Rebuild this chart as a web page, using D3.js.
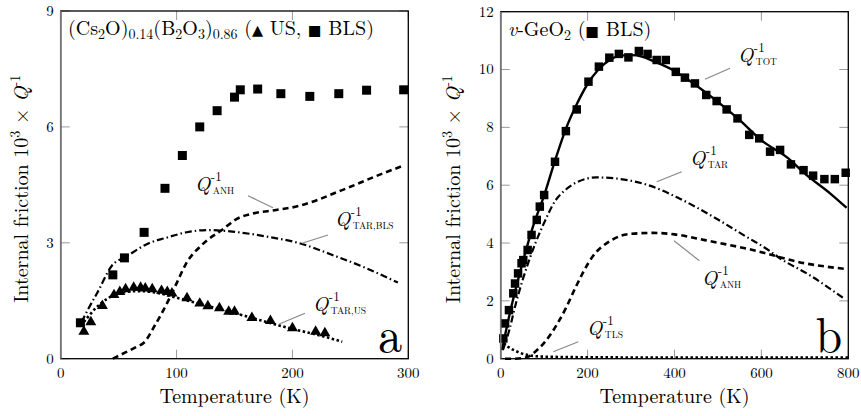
<!DOCTYPE html>
<html>
<head>
<meta charset="utf-8">
<script src="https://cdn.jsdelivr.net/npm/d3@7"></script>
<style>
  body { margin: 0; background: #fff; }
</style>
</head>
<body>
<svg id="chart" width="861" height="416"></svg>
<script>
// ---- panel a : (Cs2O)0.14(B2O3)0.86 ----
const blsTempA = [17, 45, 55, 72, 90, 105, 120, 135, 150, 155, 170, 190, 215, 240, 264, 296];
const blsQA = [0.93, 2.17, 2.61, 3.27, 4.41, 5.26, 6.0, 6.42, 6.77, 6.96, 6.98, 6.86, 6.79, 6.86, 6.95, 6.96];

const usTempA = [20, 26, 36, 46, 51, 56, 63, 69, 73, 79, 87, 92, 96, 109, 120, 127, 137, 145, 150, 165, 181, 200, 220, 228];
const usQA = [0.7, 0.95, 1.37, 1.65, 1.73, 1.8, 1.84, 1.84, 1.82, 1.8, 1.76, 1.73, 1.69, 1.57, 1.43, 1.36, 1.31, 1.22, 1.22, 1.06, 0.98, 0.79, 0.7, 0.66];

const anhTempA = [45, 55, 65, 72, 82, 92, 100, 108, 122, 140, 152, 165, 186, 205, 221, 235, 250, 270, 296];
const anhQA = [0, 0.15, 0.3, 0.42, 0.9, 1.45, 1.95, 2.45, 2.95, 3.35, 3.62, 3.75, 3.85, 3.95, 4.1, 4.27, 4.45, 4.7, 5.0];

const tarBlsTempA = [18, 24, 32, 44, 57, 76, 90, 110, 127, 148, 178, 206, 235, 264, 291];
const tarBlsQA = [0.95, 1.3, 1.73, 2.4, 2.65, 2.99, 3.12, 3.28, 3.33, 3.29, 3.16, 2.99, 2.68, 2.34, 1.97];

const tarUsTempA = [20, 30, 40, 50, 60, 70, 80, 90, 100, 120, 140, 160, 180, 200, 220, 243];
const tarUsQA = [0.95, 1.3, 1.55, 1.68, 1.74, 1.75, 1.72, 1.66, 1.58, 1.42, 1.26, 1.1, 0.93, 0.77, 0.63, 0.44];

const xTicksA = [0, 100, 200, 300];
const yTicksA = [0, 3, 6, 9];

// ---- panel b : v-GeO2 ----
const blsTempB = [6, 10, 19, 29, 33, 40, 48, 52, 62, 71, 83, 90, 100, 125, 150, 175, 202, 226, 250, 272, 294, 318, 338, 359, 380, 403, 424, 447, 473, 497, 520, 545, 572, 595, 620, 643, 668, 697, 719, 745, 769, 794];
const blsQB = [0.7, 1.22, 1.68, 2.26, 2.6, 2.95, 3.3, 3.41, 3.76, 4.28, 4.8, 5.26, 5.66, 6.81, 7.87, 8.62, 9.58, 10.1, 10.41, 10.54, 10.42, 10.64, 10.54, 10.33, 10.33, 9.92, 9.72, 9.52, 9.12, 8.91, 8.62, 8.31, 7.74, 7.62, 7.16, 7.22, 6.72, 6.52, 6.33, 6.21, 6.21, 6.43];

const totTempB = [3, 20, 50, 75, 100, 125, 150, 175, 200, 225, 250, 275, 300, 325, 350, 400, 450, 500, 550, 600, 662, 700, 758, 796];
const totQB = [0.3, 1.5, 3.3, 4.6, 5.65, 6.85, 7.95, 8.8, 9.5, 10.0, 10.32, 10.48, 10.5, 10.45, 10.3, 9.95, 9.45, 8.88, 8.25, 7.55, 6.93, 6.4, 5.72, 5.22];

const tarTempB = [5, 20, 33, 50, 63, 80, 100, 125, 150, 175, 220, 260, 340, 410, 490, 565, 620, 640, 710, 790];
const tarQB = [0.3, 1.0, 1.8, 2.7, 3.3, 4.0, 4.7, 5.45, 5.85, 6.1, 6.27, 6.24, 6.0, 5.55, 4.9, 4.22, 3.72, 3.5, 2.9, 2.08];

const anhTempB = [10, 30, 60, 80, 100, 130, 150, 175, 210, 255, 300, 350, 400, 470, 580, 700, 796];
const anhQB = [0, 0, 0.05, 0.25, 0.55, 1.2, 1.75, 2.55, 3.5, 4.1, 4.32, 4.35, 4.3, 4.1, 3.76, 3.3, 3.1];

const tlsTempB = [2, 10, 20, 30, 45, 65, 100, 200, 400, 800];
const tlsQB = [0.7, 0.5, 0.38, 0.3, 0.2, 0.12, 0.07, 0.05, 0.04, 0.04];

const xTicksB = [0, 200, 400, 600, 800];
const yTicksB = [0, 2, 4, 6, 8, 10, 12];

const svg = d3.select('#chart').style('font-family', '"Latin Modern Roman"');

const zip = (xs, ys) => xs.map((x, i) => [x, ys[i]]);

// line styles used in both panels
const styles = {
  solid: { width: 2.4, dash: null },
  dashed: { width: 2.6, dash: '6,4' },
  dashdot: { width: 2.2, dash: '7,3,1.5,3' },
  dotted: { width: 2.6, dash: '2.5,2.5' },
};

/**
 * writes a text made of parts: n = normal, s = subscript, i = italic, g = glyph
 */
function richText(g, x, y, size, parts) {
  const t = g.append('text').attr('x', x).attr('y', y).attr('font-size', size);
  let shift = 0;
  parts.forEach(([str, kind]) => {
    const target = kind === 's' ? 4 : 0;
    const sp = t.append('tspan').attr('dy', target - shift).text(str);
    shift = target;
    if (kind === 's') sp.attr('font-size', size * 0.7);
    if (kind === 'i') sp.attr('font-style', 'italic');
    if (kind === 'g') sp.style('font-family', '"DejaVu Sans"').attr('font-size', size * 0.72);
  });
  return t;
}

/**
 * Q^-1 label with a small caps subscript, kept in one text element
 */
function qLabel(g, x, y, sub) {
  const t = g.append('text').attr('x', x).attr('y', y);
  const q = t.append('tspan').attr('font-size', 20).attr('font-style', 'italic').text('Q');
  const w = q.node().getComputedTextLength();
  t.append('tspan').attr('dx', 0.5).attr('dy', -10).attr('font-size', 13).text('-1');
  t.append('tspan').attr('x', x + w + 2.5).attr('dy', 12.5).attr('font-size', 9.5).text(sub);
}

function leader(g, x1, y1, x2, y2) {
  g.append('line').attr('x1', x1).attr('y1', y1).attr('x2', x2).attr('y2', y2)
    .attr('stroke', '#888').attr('stroke-width', 1.2);
}

function drawPanel(cfg) {
  const g = svg.append('g');
  const x = d3.scaleLinear().domain(cfg.xDomain).range([cfg.left, cfg.right]);
  const y = d3.scaleLinear().domain(cfg.yDomain).range([cfg.bottom, cfg.top]);
  const tickLen = 9;

  // ticks, inward on all four sides
  const ticks = g.append('g').attr('stroke', '#999').attr('stroke-width', 1);
  cfg.xTicks.forEach((t) => {
    ticks.append('line').attr('x1', x(t)).attr('x2', x(t)).attr('y1', cfg.bottom).attr('y2', cfg.bottom - tickLen);
    ticks.append('line').attr('x1', x(t)).attr('x2', x(t)).attr('y1', cfg.top).attr('y2', cfg.top + tickLen);
  });
  cfg.yTicks.forEach((t) => {
    ticks.append('line').attr('y1', y(t)).attr('y2', y(t)).attr('x1', cfg.left).attr('x2', cfg.left + tickLen);
    ticks.append('line').attr('y1', y(t)).attr('y2', y(t)).attr('x1', cfg.right).attr('x2', cfg.right - tickLen);
  });

  // tick labels
  g.append('g').selectAll('text').data(cfg.xTicks).join('text')
    .attr('x', d => x(d)).attr('y', cfg.bottom + 19)
    .attr('text-anchor', 'middle').attr('font-size', 15).text(d => d);
  g.append('g').selectAll('text').data(cfg.yTicks).join('text')
    .attr('x', cfg.left - 7).attr('y', d => y(d)).attr('dy', '0.33em')
    .attr('text-anchor', 'end').attr('font-size', 15).text(d => d);

  // curves
  const line = d3.line().x(d => x(d[0])).y(d => y(d[1])).curve(d3.curveMonotoneX);
  cfg.curves.forEach((c) => {
    const st = styles[c.style];
    g.append('path').datum(c.data).attr('d', line)
      .attr('fill', 'none').attr('stroke', '#000')
      .attr('stroke-width', st.width)
      .attr('stroke-dasharray', st.dash);
  });

  // markers
  cfg.markers.forEach((m) => {
    const sym = d3.symbol().type(m.type).size(m.size);
    g.append('g').selectAll('path').data(m.data).join('path')
      .attr('transform', d => `translate(${x(d[0])},${y(d[1])})`)
      .attr('d', sym).attr('fill', '#000');
  });

  // frame
  g.append('rect').attr('x', cfg.left).attr('y', cfg.top)
    .attr('width', cfg.right - cfg.left).attr('height', cfg.bottom - cfg.top)
    .attr('fill', 'none').attr('stroke', '#000').attr('stroke-width', 1.3);
  g.append('line').attr('x1', cfg.left).attr('x2', cfg.left).attr('y1', cfg.top).attr('y2', cfg.bottom)
    .attr('stroke', '#777').attr('stroke-width', 1.6);

  // axis titles
  g.append('text').attr('x', (cfg.left + cfg.right) / 2).attr('y', 403)
    .attr('text-anchor', 'middle').attr('font-size', 20)
    .text('Temperature (K)');
  const yl = g.append('text')
    .attr('transform', `translate(${cfg.labelX},${(cfg.top + cfg.bottom) / 2 + 4}) rotate(-90)`)
    .attr('text-anchor', 'middle').attr('font-size', 20);
  yl.append('tspan').text('Internal friction 10');
  yl.append('tspan').attr('dy', -8).attr('font-size', 14).text('3');
  yl.append('tspan').attr('dy', 8).text(' × ');
  yl.append('tspan').attr('font-style', 'italic').text('Q');
  yl.append('tspan').attr('dy', -8).attr('font-size', 14).text('-1');

  // panel letter
  g.append('text').attr('x', cfg.right - 6).attr('y', cfg.bottom - 7)
    .attr('text-anchor', 'end').attr('font-size', 48).text(cfg.letter);

  return g;
}

const gA = drawPanel({
  left: 60.7, right: 408.3, top: 11, bottom: 358.7, labelX: 28,
  xDomain: [0, 300], yDomain: [0, 9],
  xTicks: xTicksA, yTicks: yTicksA, letter: 'a',
  curves: [
    { data: zip(anhTempA, anhQA), style: 'dashed' },
    { data: zip(tarBlsTempA, tarBlsQA), style: 'dashdot' },
    { data: zip(tarUsTempA, tarUsQA), style: 'dotted' },
  ],
  markers: [
    { data: zip(blsTempA, blsQA), type: d3.symbolSquare, size: 81 },
    { data: zip(usTempA, usQA), type: d3.symbolTriangle, size: 52 },
  ],
});
richText(gA, 68, 35, 20, [['(Cs', 'n'], ['2', 's'], ['O)', 'n'], ['0.14', 's'], ['(B', 'n'], ['2', 's'], ['O', 'n'], ['3', 's'], [')', 'n'], ['0.86', 's'], [' (', 'n'], ['▲', 'g'], [' US, ', 'n'], ['■', 'g'], [' BLS)', 'n']]);
qLabel(gA, 195, 191, 'ANH');
leader(gA, 248, 195.7, 273, 207.7);
qLabel(gA, 335, 226, 'TAR,BLS');
leader(gA, 328, 235, 302, 243.3);
qLabel(gA, 313, 311, 'TAR,US');
leader(gA, 305, 313.3, 279.3, 324);

const gB = drawPanel({
  left: 500.7, right: 848.3, top: 11.7, bottom: 358.7, labelX: 460,
  xDomain: [0, 800], yDomain: [0, 12],
  xTicks: xTicksB, yTicks: yTicksB, letter: 'b',
  curves: [
    { data: zip(tlsTempB, tlsQB), style: 'dotted' },
    { data: zip(anhTempB, anhQB), style: 'dashed' },
    { data: zip(tarTempB, tarQB), style: 'dashdot' },
    { data: zip(totTempB, totQB), style: 'solid' },
  ],
  markers: [
    { data: zip(blsTempB, blsQB), type: d3.symbolSquare, size: 72 },
  ],
});
richText(gB, 508, 36, 20, [['v', 'i'], ['-GeO', 'n'], ['2', 's'], [' (', 'n'], ['■', 'g'], [' BLS)', 'n']]);
qLabel(gB, 738, 62, 'TOT');
leader(gB, 730, 68.3, 705, 79.3);
qLabel(gB, 690, 165, 'TAR');
leader(gB, 681.7, 171.7, 656.7, 181.7);
qLabel(gB, 702, 285, 'ANH');
leader(gB, 674, 240.7, 699.3, 260.7);
qLabel(gB, 587, 335, 'TLS');
leader(gB, 578.3, 341.7, 553.3, 351.7);
</script>
</body>
</html>
